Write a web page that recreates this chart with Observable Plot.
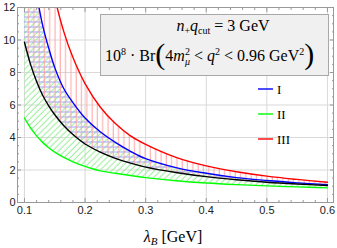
<!DOCTYPE html>
<html><head><meta charset="utf-8">
<script src="https://cdn.jsdelivr.net/npm/d3@7"></script>
<script src="https://cdn.jsdelivr.net/npm/@observablehq/plot@0.6"></script>
<style>body{margin:0;background:#fff}</style>
</head><body><div id="chart"></div>
<script>
// lambda_B [GeV] sample positions and curve values
const lambdaB  = [0.1, 0.11, 0.12, 0.13, 0.14, 0.15, 0.165, 0.18, 0.2, 0.225, 0.25, 0.275, 0.3, 0.35, 0.4, 0.45, 0.5, 0.55, 0.6];
const central  = [9.86, 8.5, 7.45, 6.6, 5.95, 5.4, 4.72, 4.18, 3.6, 3.1, 2.72, 2.42, 2.18, 1.85, 1.59, 1.4, 1.25, 1.14, 1.05];
const modelI   = [17.8, 15.0, 12.8, 10.9, 9.5, 8.3, 7.0, 6.15, 5.2, 4.35, 3.7, 3.15, 2.7, 2.15, 1.8, 1.53, 1.35, 1.21, 1.1];
const modelII  = [5.2, 4.59, 4.1, 3.7, 3.37, 3.1, 2.77, 2.5, 2.22, 1.95, 1.8, 1.66, 1.53, 1.34, 1.2, 1.1, 1.02, 0.96, 0.9];
const modelIII = [27.8, 23.0, 19.4, 16.6, 14.4, 12.6, 10.5, 8.92, 7.32, 5.88, 4.86, 4.1, 3.58, 2.78, 2.25, 1.89, 1.62, 1.42, 1.25];

const xTicks = [0.1, 0.2, 0.3, 0.4, 0.5, 0.6];
const yTicks = [0, 2, 4, 6, 8, 10, 12];
const legendNames = ["I", "II", "III"];
const legendColors = ["#0000ff", "#00ff00", "#ff0000"];

const xMinor = d3.range(5, 31).filter(i => i % 5 !== 0).map(i => i / 50);
const yMinor = d3.range(0, 25).filter(i => i % 4 !== 0).map(i => i / 2);

const rows = lambdaB.map((l, i) => ({l, c: central[i], b: modelI[i], g: modelII[i], r: modelIII[i]}));

const curve = "catmull-rom";
const frameGray = "#999";

const svg = Plot.plot({
  width: 337, height: 248,
  marginLeft: 17, marginRight: 4, marginTop: 7, marginBottom: 46,
  x: {domain: [0.0885, 0.61]},
  y: {domain: [0, 12]},
  style: {fontFamily: "Liberation Sans, Arial, sans-serif", fontSize: "11px", background: "white", color: "#222"},
  marks: [
    Plot.gridX(xTicks, {stroke: "#d9d9d9", strokeOpacity: 1}),
    Plot.gridY(yTicks, {stroke: "#d9d9d9", strokeOpacity: 1}),
    Plot.areaY(rows, {x: "l", y1: "g", y2: "b", fill: "url(#hatchG)", curve, clip: true}),
    Plot.areaY(rows, {x: "l", y1: "c", y2: "b", fill: "url(#hatchB)", curve, clip: true}),
    Plot.areaY(rows, {x: "l", y1: "c", y2: "r", fill: "url(#hatchR)", curve, clip: true}),
    Plot.lineY(rows, {x: "l", y: "g", stroke: legendColors[1], strokeWidth: 1.4, curve, clip: true}),
    Plot.lineY(rows, {x: "l", y: "r", stroke: legendColors[2], strokeWidth: 1.4, curve, clip: true}),
    Plot.lineY(rows, {x: "l", y: "b", stroke: legendColors[0], strokeWidth: 1.4, curve, clip: true}),
    Plot.lineY(rows, {x: "l", y: "c", stroke: "#000", strokeWidth: 1.4, curve, clip: true}),
    Plot.frame({stroke: frameGray}),
    // labels
    Plot.axisX(xTicks, {anchor: "bottom", tickSize: 0, tickPadding: 4, tickFormat: d => d.toFixed(1), fill: "#222", label: null}),
    Plot.axisY(yTicks, {anchor: "left", tickSize: 0, tickPadding: 2, tickFormat: d => String(d), fill: "#222", label: null}),
    // inward ticks on all four sides
    Plot.axisX(xTicks, {anchor: "bottom", tickSize: -4, tickFormat: () => "", stroke: frameGray, label: null}),
    Plot.axisX(xMinor, {anchor: "bottom", tickSize: -2, tickFormat: () => "", stroke: frameGray, label: null}),
    Plot.axisX(xTicks, {anchor: "top", tickSize: -4, tickFormat: () => "", stroke: frameGray, label: null}),
    Plot.axisX(xMinor, {anchor: "top", tickSize: -2, tickFormat: () => "", stroke: frameGray, label: null}),
    Plot.axisY(yTicks, {anchor: "left", tickSize: -4, tickFormat: () => "", stroke: frameGray, label: null}),
    Plot.axisY(yMinor, {anchor: "left", tickSize: -2, tickFormat: () => "", stroke: frameGray, label: null}),
    Plot.axisY(yTicks, {anchor: "right", tickSize: -4, tickFormat: () => "", stroke: frameGray, label: null}),
    Plot.axisY(yMinor, {anchor: "right", tickSize: -2, tickFormat: () => "", stroke: frameGray, label: null})
  ]
});

const s = d3.select(svg);
s.insert("defs", ":first-child").html(`
  <pattern id="hatchR" patternUnits="userSpaceOnUse" width="5.3" height="10">
    <line x1="2" y1="0" x2="2" y2="10" style="stroke:#ffa3a3;stroke-width:1"/>
  </pattern>
  <pattern id="hatchB" patternUnits="userSpaceOnUse" width="10" height="5">
    <line x1="0" y1="2" x2="10" y2="2" style="stroke:#a3a3ff;stroke-width:1"/>
  </pattern>
  <pattern id="hatchG" patternUnits="userSpaceOnUse" width="4.3" height="10" patternTransform="rotate(45)">
    <line x1="2" y1="0" x2="2" y2="10" style="stroke:#9aee9a;stroke-width:1"/>
  </pattern>`);

function rich(g, x, y, parts, size, anchor) {
  const t = g.append("text").attr("x", x).attr("y", y)
    .attr("font-family", "Liberation Serif, Times New Roman, serif")
    .attr("font-size", size).attr("text-anchor", anchor || "start").attr("fill", "#000");
  for (const p of parts) {
    const sp = t.append("tspan").text(p.t);
    if (p.i) sp.attr("font-style", "italic");
    if (p.dy) sp.attr("dy", p.dy);
    if (p.dx) sp.attr("dx", p.dx);
    if (p.fs) sp.attr("font-size", p.fs);
  }
  return t;
}

const ann = s.append("g");
// axis title
rich(ann, 173, 242, [
  {t: "λ", i: true}, {t: "B", i: true, fs: 11, dy: 3}, {t: " [GeV]", dy: -3}
], 16, "middle");

// info box
ann.append("rect").attr("x", 100.5).attr("y", 14.5).attr("width", 228).attr("height", 61)
  .attr("fill", "#f0f0f0").attr("stroke", "#a8a8a8");
rich(ann, 223, 31, [
  {t: "n", i: true}, {t: "+", fs: 10, dy: 3}, {t: "q", i: true, dy: -3},
  {t: "cut", fs: 10, dy: 3}, {t: " = 3 GeV", dy: -3}
], 16, "middle");
rich(ann, 105, 61, [
  {t: "10"}, {t: "8", fs: 10, dy: -6}, {t: " · Br", dy: 6},
  {t: "(", fs: 30, dy: 3}, {t: "4", dy: -3}, {t: "m", i: true}, {t: "2", fs: 10, dy: -6},
  {t: "μ", i: true, fs: 10, dx: -5, dy: 10}, {t: " < ", dy: -4}, {t: "q", i: true},
  {t: "2", fs: 10, dy: -6}, {t: " < 0.96 GeV", dy: 6}, {t: "2", fs: 10, dy: -6},
  {t: ")", fs: 30, dy: 9}
], 16, "start");

// legend
legendNames.forEach((name, i) => {
  const y = 89 + i * 25;
  ann.append("line").attr("x1", 258).attr("x2", 273).attr("y1", y).attr("y2", y)
    .attr("stroke", legendColors[i]).attr("stroke-width", 1.4);
  rich(ann, 277, y + 4.5, [{t: name}], 13, "start");
});

document.getElementById("chart").appendChild(svg);
</script>
</body></html>
